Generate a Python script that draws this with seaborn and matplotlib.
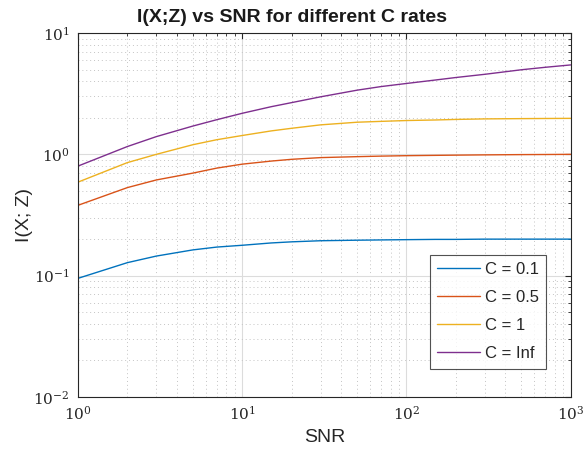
import numpy as np
import pandas as pd
import matplotlib
matplotlib.use("Agg")
import matplotlib.pyplot as plt
import seaborn as sns

# values (log-log plot)
snr = [1, 2, 3, 5, 7, 10, 15, 20, 30, 50, 70, 100, 150, 200, 300, 500, 700, 1000]
c_01 = [0.095, 0.128, 0.145, 0.163, 0.172, 0.178, 0.186, 0.190, 0.194, 0.196, 0.197, 0.198, 0.199, 0.199, 0.200, 0.200, 0.200, 0.200]
c_05 = [0.38, 0.532, 0.615, 0.70, 0.77, 0.83, 0.88, 0.91, 0.94, 0.957, 0.967, 0.975, 0.981, 0.985, 0.99, 0.995, 0.997, 1.0]
c_1 = [0.59, 0.855, 1.0, 1.20, 1.32, 1.43, 1.56, 1.64, 1.75, 1.84, 1.87, 1.90, 1.92, 1.94, 1.96, 1.97, 1.975, 1.98]
c_inf = [0.80, 1.16, 1.40, 1.71, 1.93, 2.18, 2.47, 2.67, 2.98, 3.38, 3.62, 3.84, 4.10, 4.30, 4.57, 4.98, 5.22, 5.46]
labels = ["C = 0.1", "C = 0.5", "C = 1", "C = Inf"]
colors = ["#0072BD", "#D95319", "#EDB120", "#7E2F8E"]

frames = []
for lab, vals in zip(labels, [c_01, c_05, c_1, c_inf]):
    frames.append(pd.DataFrame({"SNR": snr, "I": vals, "rate": lab}))
df = pd.concat(frames, ignore_index=True)

sns.set_style("white")
plt.rcParams["font.family"] = ["Liberation Sans", "DejaVu Sans"]

fig = plt.figure(figsize=(5.86, 4.72), dpi=100)
ax = fig.add_axes([0.133, 0.159, 0.841, 0.771])

sns.lineplot(data=df, x="SNR", y="I", hue="rate", palette=colors, linewidth=1.0, ax=ax)

ax.set_xscale("log")
ax.set_yscale("log")
ax.set_xlim(1, 1000)
ax.set_ylim(0.01, 10)

ax.grid(True, which="major", color="#dcdcdc", linestyle="-", linewidth=0.8)
ax.grid(True, which="minor", color="#c4c4c4", linestyle=(0, (1, 3)), linewidth=0.7)
ax.set_axisbelow(True)

ax.tick_params(which="both", direction="in", top=True, right=True, colors="#262626")
ax.tick_params(which="major", length=4, labelsize=11, pad=6)
ax.tick_params(which="minor", length=2)
for s in ax.spines.values():
    s.set_color("#262626")
    s.set_linewidth(0.8)

for t in ax.get_xticklabels() + ax.get_yticklabels():
    t.set_family("DejaVu Serif")

ax.set_xlabel("SNR", fontsize=14, labelpad=4)
ax.set_ylabel("I(X; Z)", fontsize=14, labelpad=0)
fig.text(0.498, 0.962, "I(X;Z) vs SNR for different C rates", fontsize=14, fontweight="bold",
         ha="center", va="center", color="#1a1a1a")

leg = ax.legend(loc="lower right", bbox_to_anchor=(0.95, 0.078), fontsize=12, frameon=True,
                fancybox=False, edgecolor="#262626", handlelength=2.6, labelspacing=0.78,
                borderpad=0.45, handletextpad=0.25, borderaxespad=0)
leg.get_frame().set_linewidth(0.8)

fig.savefig("out.png", dpi=100)
